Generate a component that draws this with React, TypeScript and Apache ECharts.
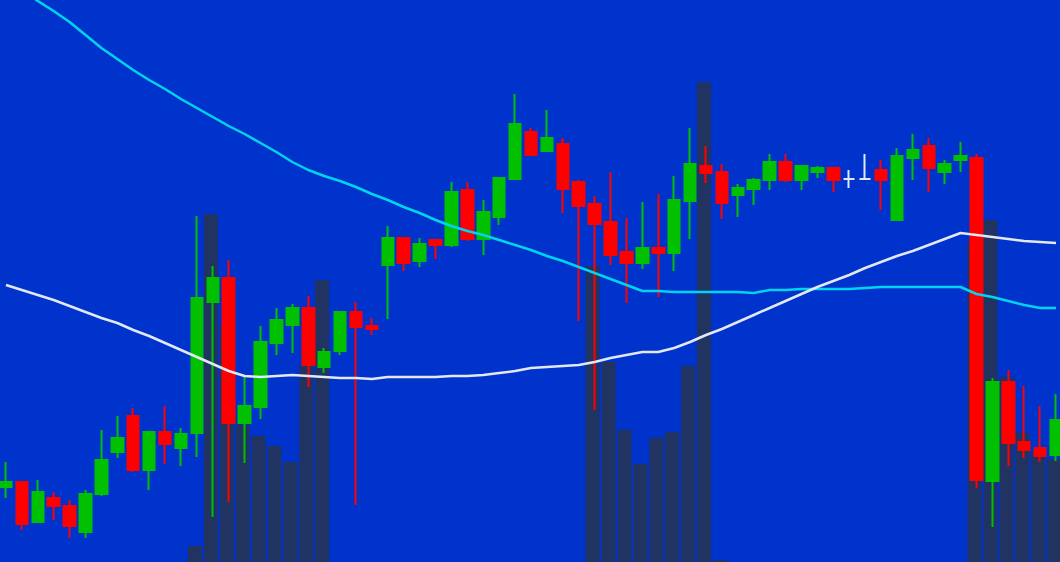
import React, { useEffect, useRef } from "react";
import * as echarts from "echarts";

// 67 sessions (no axis labels are shown in the chart)
const categories: string[] = Array.from({ length: 67 }, (_, i) => `T${i + 1}`);

// [open, close, low, high]
const candles: number[][] = [
  [75, 80, 64, 100], [80, 38, 32, 80], [40, 70, 40, 82], [64, 56, 42, 70],
  [56, 36, 24, 62], [30, 68, 24, 72], [68, 102, 66, 132], [110, 124, 104, 146],
  [146, 92, 90, 154], [92, 130, 72, 130], [130, 118, 98, 156], [114, 128, 96, 134],
  [129, 264, 105, 346], [260, 284, 45, 296], [284, 139, 60, 302], [139, 156, 99, 186],
  [155, 220, 143, 236], [219, 242, 207, 254], [237, 254, 209, 258], [254, 197, 175, 266],
  [195, 210, 189, 214], [211, 250, 207, 250], [250, 235, 57, 260], [236, 233, 227, 244],
  [297, 324, 243, 336], [324, 299, 291, 324], [301, 318, 295, 324], [322, 317, 303, 322],
  [317, 370, 315, 380], [372, 323, 321, 380], [323, 350, 307, 362], [345, 384, 337, 384],
  [383, 438, 383, 468], [430, 407, 407, 434], [411, 424, 411, 452], [418, 373, 349, 424],
  [380, 356, 241, 382], [358, 338, 152, 366], [340, 307, 297, 390], [310, 299, 259, 344],
  [299, 314, 293, 360], [314, 309, 265, 368], [309, 362, 291, 386], [361, 398, 323, 434],
  [396, 389, 379, 416], [390, 359, 343, 398], [367, 374, 345, 378], [373, 382, 357, 384],
  [382, 400, 372, 408], [400, 382, 380, 408], [382, 396, 372, 396], [390, 394, 384, 396],
  [394, 382, 370, 394], [383, 383, 374, 392], [383, 383, 382, 408], [392, 382, 352, 402],
  [342, 406, 342, 414], [404, 412, 382, 428], [416, 394, 370, 424], [390, 398, 378, 402],
  [402, 406, 390, 420], [404, 82, 74, 408], [81, 180, 35, 184], [180, 119, 96, 192],
  [120, 112, 104, 176], [114, 106, 100, 156], [107, 142, 101, 168],
];

const volumes: number[] = [
  0, 0, 0, 0, 0, 0, 0, 0, 0, 0, 0, 0,
  16, 348, 236, 137, 126, 116, 100, 196, 282,
  0, 0, 0, 0, 0, 0, 0, 0, 0, 0, 0, 0, 0, 0, 0, 0,
  296, 200, 132, 98, 124, 130, 196, 480, 2,
  0, 0, 0, 0, 0, 0, 0, 0, 0, 0, 0, 0, 0, 0, 0,
  320, 342, 185, 129, 110, 103,
];

const maSlow: number[] = [
  583, 572, 561, 551, 540, 527, 514, 503, 492, 482, 473, 463, 454, 445, 436, 428,
  419, 410, 400, 392, 386, 381, 375, 368, 362, 355, 349, 342, 336, 331, 327, 322,
  317, 312, 306, 301, 295, 289, 283, 277, 271, 271, 270, 270, 270, 270, 270, 269,
  272, 272, 273, 273, 273, 273, 274, 275, 275, 275, 275, 275, 275, 268, 265, 261,
  257, 254, 254,
];

const maFast: number[] = [
  277, 272, 267, 262, 256, 250, 244, 239, 232, 226, 219, 212, 205, 198, 191, 186,
  185, 186, 187, 186, 185, 184, 184, 183, 185, 185, 185, 185, 186, 186, 187, 189,
  191, 194, 195, 196, 197, 200, 204, 207, 210, 210, 214, 220, 227, 233, 240, 247,
  254, 261, 268, 275, 281, 287, 294, 300, 306, 311, 317, 323, 329, 327, 325, 323,
  321, 320, 319,
];

const BG = "#0033CC";
const UP = "#00C000";
const DOWN = "#FF0000";
const VOL = "#213361";
const CYAN = "#00D4F0";
const WHITE = "#E2E8F6";

export default function App() {
  const ref = useRef<HTMLDivElement>(null);

  useEffect(() => {
    if (!ref.current) return;
    const chart = echarts.init(ref.current, undefined, { renderer: "svg" });
    chart.setOption({
      animation: false,
      backgroundColor: BG,
      grid: [
        { left: 2, right: 0, top: 0, bottom: 0 },
        { left: 0, right: 2, top: 0, bottom: 0 },
      ],
      xAxis: [
        { type: "category", data: categories, gridIndex: 0, show: false, boundaryGap: true },
        { type: "category", data: categories, gridIndex: 1, show: false, boundaryGap: true },
      ],
      yAxis: [
        { type: "value", gridIndex: 0, min: 0, max: 562, show: false, splitLine: { show: false } },
        { type: "value", gridIndex: 1, min: 0, max: 562, show: false, splitLine: { show: false } },
      ],
      series: [
        {
          type: "bar",
          xAxisIndex: 1,
          yAxisIndex: 1,
          data: volumes,
          barWidth: 14,
          itemStyle: { color: VOL },
          z: 1,
          silent: true,
        },
        {
          type: "candlestick",
          xAxisIndex: 0,
          yAxisIndex: 0,
          data: candles,
          barWidth: 12,
          itemStyle: {
            color: UP,
            color0: DOWN,
            borderColor: UP,
            borderColor0: DOWN,
            borderColorDoji: WHITE,
            borderWidth: 2,
          },
          z: 2,
          silent: true,
        },
        {
          type: "line",
          xAxisIndex: 0,
          yAxisIndex: 0,
          data: maSlow,
          showSymbol: false,
          clip: true,
          lineStyle: { color: CYAN, width: 2.5 },
          z: 3,
          silent: true,
        },
        {
          type: "line",
          xAxisIndex: 0,
          yAxisIndex: 0,
          data: maFast,
          showSymbol: false,
          clip: true,
          lineStyle: { color: WHITE, width: 2.5 },
          z: 4,
          silent: true,
        },
      ],
    });
    return () => chart.dispose();
  }, []);

  return (
    <div style={{ position: "fixed", left: 0, top: 0, width: 1060, height: 562, overflow: "hidden" }}>
      <div
        ref={ref}
        style={{ position: "absolute", left: -4, top: 0, width: 1068, height: 562 }}
      />
    </div>
  );
}
